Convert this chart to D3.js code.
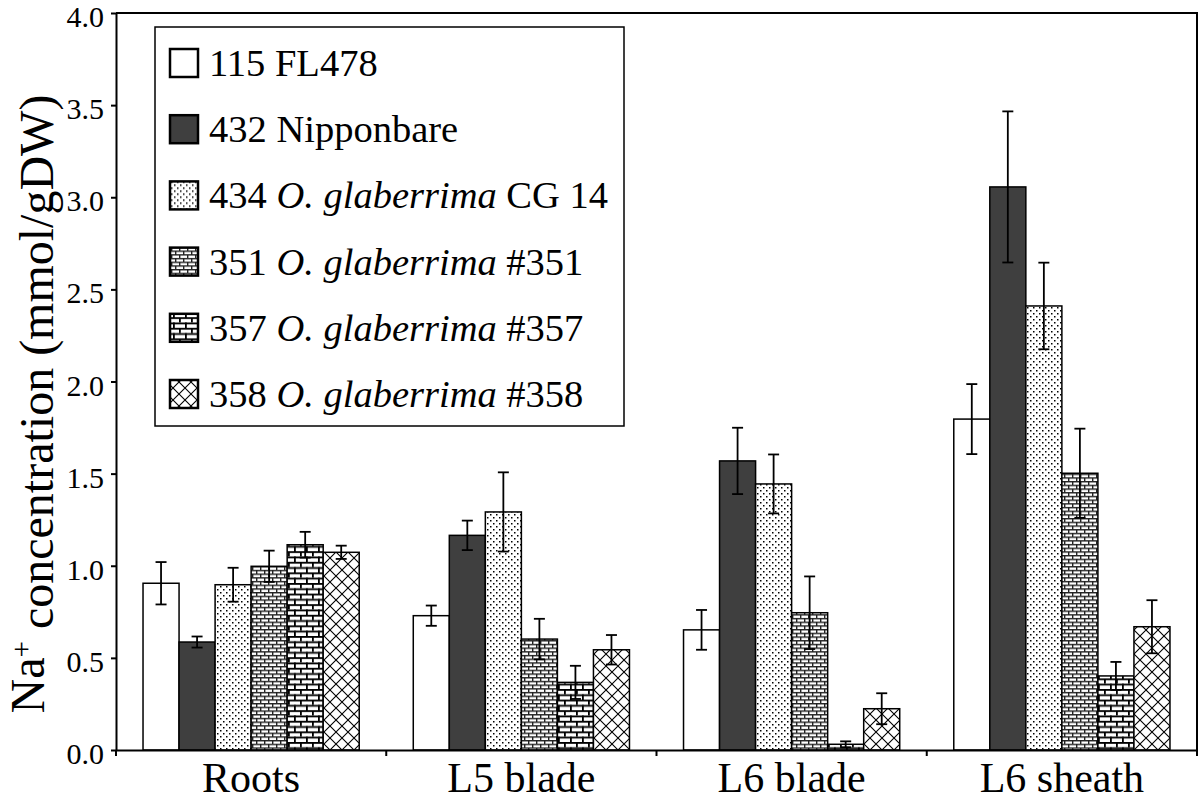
<!DOCTYPE html>
<html lang="en">
<head>
<meta charset="UTF-8">
<title>Na+ concentration by tissue</title>
<script src="https://d3js.org/d3.v7.min.js"></script>
<style>
  html, body { margin: 0; padding: 0; background: #fff; }
  svg { display: block; }
  text { font-family: "Liberation Serif", "Times New Roman", serif; fill: #000; }
  .axis path, .axis line { stroke: #000; stroke-width: 2px; }
  .bar { stroke: #000; stroke-width: 1.5px; }
  .err { stroke: #000; stroke-width: 1.8px; fill: none; }
</style>
</head>
<body>
<svg width="1200" height="801"></svg>

<script>
// tissues on the x axis
const categories = ["Roots", "L5 blade", "L6 blade", "L6 sheath"];

// lines (legend order)
const seriesKeys = ["115", "432", "434", "351", "357", "358"];
const seriesLabels = [
  ["115 FL478"],
  ["432 Nipponbare"],
  ["434 ", "O. glaberrima", " CG 14"],
  ["351 ", "O. glaberrima", " #351"],
  ["357 ", "O. glaberrima", " #357"],
  ["358 ", "O. glaberrima", " #358"]
];

// mean Na+ (mmol/gDW), one array per line, in category order
const means115 = [0.905, 0.729, 0.652, 1.796];
const means432 = [0.586, 1.165, 1.569, 3.056];
const means434 = [0.897, 1.292, 1.444, 2.410];
const means351 = [0.997, 0.602, 0.745, 1.502];
const means357 = [1.114, 0.367, 0.031, 0.402];
const means358 = [1.073, 0.544, 0.224, 0.669];

// error bar half-lengths
const err115 = [0.115, 0.055, 0.108, 0.190];
const err432 = [0.030, 0.080, 0.180, 0.410];
const err434 = [0.092, 0.215, 0.160, 0.235];
const err351 = [0.085, 0.110, 0.197, 0.242];
const err357 = [0.070, 0.090, 0.016, 0.076];
const err358 = [0.036, 0.080, 0.084, 0.144];

const yTicks = [0, 0.5, 1, 1.5, 2, 2.5, 3, 3.5, 4];

const means = [means115, means432, means434, means351, means357, means358];
const errs = [err115, err432, err434, err351, err357, err358];

const data = [];
categories.forEach((c, ci) => {
  seriesKeys.forEach((k, si) => {
    data.push({cat: c, key: k, value: means[si][ci], err: errs[si][ci]});
  });
});

const svg = d3.select("svg");
const mLeft = 116, mRight = 1197, mTop = 13, mBottom = 750;

const x = d3.scaleBand().domain(categories).range([mLeft, mRight])
  .paddingInner(0.2).paddingOuter(0.1);
const xs = d3.scaleBand().domain(seriesKeys).range([0, x.bandwidth()]);
const y = d3.scaleLinear().domain([0, 4]).range([mBottom, mTop]);

// fill patterns
const defs = svg.append("defs");

// dots
const pDots = defs.append("pattern").attr("id", "p434")
  .attr("patternUnits", "userSpaceOnUse").attr("width", 6).attr("height", 6);
pDots.append("rect").attr("width", 6).attr("height", 6).attr("fill", "#fff");
pDots.append("rect").attr("x", 1).attr("y", 1).attr("width", 1.5).attr("height", 1.5).attr("fill", "#000");
pDots.append("rect").attr("x", 4).attr("y", 4).attr("width", 1.5).attr("height", 1.5).attr("fill", "#000");

// bricks (fine and coarse)
function brick(id, w, h, lw, col) {
  const p = defs.append("pattern").attr("id", id)
    .attr("patternUnits", "userSpaceOnUse").attr("width", w).attr("height", 2 * h);
  p.append("rect").attr("width", w).attr("height", 2 * h).attr("fill", "#fff");
  p.append("rect").attr("x", 0).attr("y", 0).attr("width", w).attr("height", lw).attr("fill", col);
  p.append("rect").attr("x", 0).attr("y", h).attr("width", w).attr("height", lw).attr("fill", col);
  p.append("rect").attr("x", 0).attr("y", 0).attr("width", lw).attr("height", h).attr("fill", col);
  p.append("rect").attr("x", w / 2).attr("y", h).attr("width", lw).attr("height", h).attr("fill", col);
}
brick("p351", 8, 3.7, 1.4, "#222");
brick("p357", 12, 5.3, 1.8, "#000");

// diagonal cross hatch
const pX = defs.append("pattern").attr("id", "p358")
  .attr("patternUnits", "userSpaceOnUse").attr("width", 12).attr("height", 12);
pX.append("rect").attr("width", 12).attr("height", 12).attr("fill", "#fff");
pX.append("path").attr("d", "M0,0L12,12M12,0L0,12M-1,11L1,13M11,-1L13,1")
  .attr("stroke", "#000").attr("stroke-width", 1.1);

const fills = {
  "115": "#fff",
  "432": "#3f3f3f",
  "434": "url(#p434)",
  "351": "url(#p351)",
  "357": "url(#p357)",
  "358": "url(#p358)"
};

// plot frame (top and right)
svg.append("path")
  .attr("d", `M${mLeft},${mTop}H${mRight}V${mBottom}`)
  .attr("fill", "none").attr("stroke", "#000").attr("stroke-width", 2);

// bars
svg.append("g").selectAll("rect").data(data).join("rect")
  .attr("class", "bar")
  .attr("x", d => x(d.cat) + xs(d.key))
  .attr("y", d => y(d.value))
  .attr("width", xs.bandwidth())
  .attr("height", d => y(0) - y(d.value))
  .attr("fill", d => fills[d.key]);

// error bars
const eb = svg.append("g").selectAll("g").data(data).join("g")
  .attr("class", "err")
  .attr("transform", d => `translate(${x(d.cat) + xs(d.key) + xs.bandwidth() / 2},0)`);
eb.append("line").attr("y1", d => y(d.value - d.err)).attr("y2", d => y(d.value + d.err));
eb.append("line").attr("x1", -5.5).attr("x2", 5.5)
  .attr("y1", d => y(d.value + d.err)).attr("y2", d => y(d.value + d.err));
eb.append("line").attr("x1", -5.5).attr("x2", 5.5)
  .attr("y1", d => y(d.value - d.err)).attr("y2", d => y(d.value - d.err));

// y axis
const yAxis = svg.append("g").attr("class", "axis")
  .attr("transform", `translate(${mLeft},0)`)
  .call(d3.axisLeft(y).tickValues(yTicks).tickFormat(d3.format(".1f")).tickSize(5).tickSizeOuter(0).tickPadding(7));
yAxis.selectAll("text").style("font-size", "30px").attr("dy", "0.45em");

// x axis
const xAxis = svg.append("g").attr("class", "axis")
  .attr("transform", `translate(0,${mBottom})`)
  .call(d3.axisBottom(x).tickSize(0).tickSizeOuter(0).tickPadding(12));
xAxis.selectAll("text").style("font-size", "42px").attr("dy", "0.71em");
const bounds = categories.map(c => x(c) - x.step() * x.paddingInner() / 2)
  .concat([x(categories[categories.length - 1]) + x.bandwidth() + x.step() * x.paddingInner() / 2]);
xAxis.selectAll(".sep").data(bounds).join("line").attr("class", "sep")
  .attr("x1", d => d).attr("x2", d => d).attr("y1", 0).attr("y2", 6);

// y title
const yt = svg.append("text")
  .attr("transform", `translate(44,404) rotate(-90)`)
  .attr("text-anchor", "middle")
  .style("font-size", "48px");
yt.append("tspan").text("Na");
yt.append("tspan").attr("dy", "-0.45em").style("font-size", "29px").text("+");
yt.append("tspan").attr("dy", "0.45em").text(" concentration (mmol/gDW)");

// legend
const lg = svg.append("g").attr("transform", "translate(155,27)");
lg.append("rect").attr("width", 469).attr("height", 399)
  .attr("fill", "#fff").attr("stroke", "#000").attr("stroke-width", 1.5);
const rowY = d3.scalePoint().domain(seriesKeys).range([36, 367]);
const item = lg.selectAll(".item").data(seriesKeys).join("g")
  .attr("class", "item")
  .attr("transform", k => `translate(0,${rowY(k)})`);
item.append("rect").attr("x", 15).attr("y", -14).attr("width", 28).attr("height", 28)
  .attr("fill", k => fills[k]).attr("stroke", "#000").attr("stroke-width", 2.5);
const lt = item.append("text").attr("x", 54).attr("y", 13).style("font-size", "38.5px");
lt.each(function(k, i) {
  const t = d3.select(this);
  seriesLabels[i].forEach((part, j) => {
    t.append("tspan").text(part).style("font-style", j === 1 ? "italic" : "normal");
  });
});
</script>
</body>
</html>
